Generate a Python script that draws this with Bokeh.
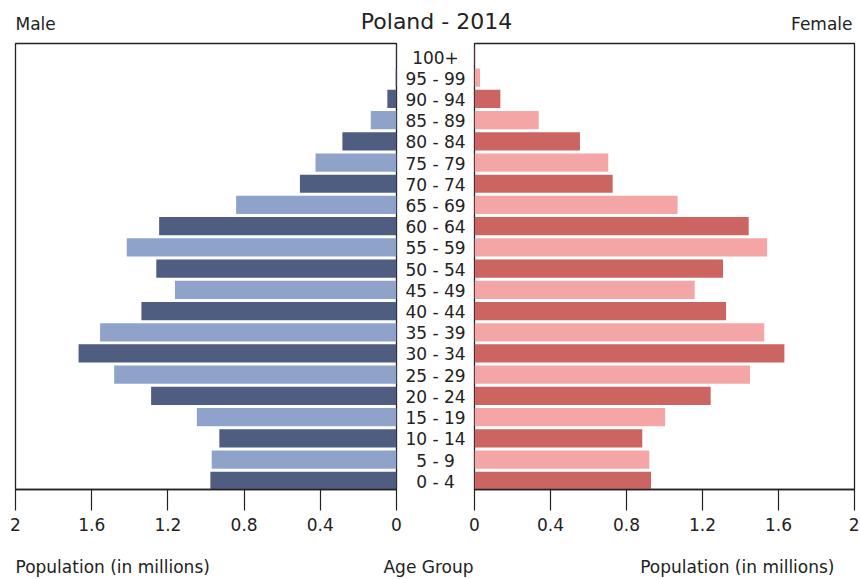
from bokeh.plotting import figure
from bokeh.models import Range1d, FixedTicker, Label
from bokeh.layouts import row, column
from bokeh.core.properties import value
from bokeh.embed import file_html
from bokeh.resources import INLINE

# ---- data (millions) ----
ages = ["0 - 4", "5 - 9", "10 - 14", "15 - 19", "20 - 24", "25 - 29", "30 - 34",
        "35 - 39", "40 - 44", "45 - 49", "50 - 54", "55 - 59", "60 - 64", "65 - 69",
        "70 - 74", "75 - 79", "80 - 84", "85 - 89", "90 - 94", "95 - 99", "100+"]
male = [0.977, 0.970, 0.930, 1.048, 1.288, 1.482, 1.669, 1.556, 1.339, 1.163, 1.261,
        1.416, 1.246, 0.842, 0.507, 0.425, 0.284, 0.135, 0.048, 0.006, 0.003]
female = [0.929, 0.920, 0.883, 1.003, 1.243, 1.450, 1.631, 1.525, 1.324, 1.159, 1.308,
          1.540, 1.443, 1.069, 0.727, 0.704, 0.555, 0.338, 0.136, 0.029, 0.003]
tick_vals = [0, 0.4, 0.8, 1.2, 1.6, 2]
tick_labels = ["0", "0.4", "0.8", "1.2", "1.6", "2"]

title_text = "Poland - 2014"
male_label = "Male"
female_label = "Female"
x_label = "Population (in millions)"
mid_label = "Age Group"

MALE_COLORS = ["#4f5d80", "#8fa3ca"]
FEMALE_COLORS = ["#cc6461", "#f4a6a6"]
INK = "#222222"
FONT = "DejaVu Sans"

idx = list(range(len(ages)))
male_col = [MALE_COLORS[i % 2] for i in idx]
female_col = [FEMALE_COLORS[i % 2] for i in idx]

y_range = Range1d(-0.41, len(ages) - 0.39)

ROW_H = 505
TOP_B = 7
BOT_B = 52


def side_fig(width, x_range, left_b, right_b):
    p = figure(width=width, height=ROW_H, x_range=x_range, y_range=y_range,
               output_backend="svg", toolbar_location=None, y_axis_type=None,
               title=None, min_border_left=left_b, min_border_right=right_b,
               min_border_top=TOP_B, min_border_bottom=BOT_B)
    p.grid.visible = False
    p.outline_line_color = INK
    p.outline_line_width = 1.3
    ax = p.xaxis[0]
    ax.ticker = FixedTicker(ticks=tick_vals)
    ax.major_label_overrides = {v: l for v, l in zip(tick_vals, tick_labels)}
    ax.major_tick_out = 21
    ax.major_tick_in = 0
    ax.minor_tick_line_color = None
    ax.major_tick_line_color = INK
    ax.major_tick_line_width = 1.2
    ax.axis_line_color = INK
    ax.axis_line_width = 1.3
    ax.major_label_text_font = FONT
    ax.major_label_text_font_size = "17px"
    ax.major_label_text_color = INK
    ax.major_label_standoff = 7
    return p


left = side_fig(402, Range1d(2, 0), 15, 6)
left.hbar(y=idx, left=0, right=male, height=0.86, fill_color=male_col, line_color=None)

right = side_fig(391, Range1d(0, 2), 6, 5)
right.hbar(y=idx, left=0, right=female, height=0.86, fill_color=female_col, line_color=None)

mid = figure(width=66, height=ROW_H, x_range=Range1d(-1, 1), y_range=y_range,
             output_backend="svg", toolbar_location=None, x_axis_type=None,
             y_axis_type=None, title=None, min_border_left=0, min_border_right=0,
             min_border_top=TOP_B, min_border_bottom=BOT_B)
mid.grid.visible = False
mid.outline_line_color = None
mid.text(x=[0] * len(ages), y=idx, text=ages, text_align="center",
         text_baseline="middle", text_font=value(FONT), text_font_size="17px",
         text_color=INK, y_offset=1)


def strip_fig(height):
    p = figure(width=859, height=height, x_range=Range1d(0, 859), y_range=Range1d(0, height),
               output_backend="svg", toolbar_location=None, x_axis_type=None,
               y_axis_type=None, title=None, min_border=0)
    p.min_border_left = p.min_border_right = p.min_border_top = p.min_border_bottom = 0
    p.grid.visible = False
    p.outline_line_color = None
    return p


top = strip_fig(36)
top.add_layout(Label(x=15, y=13, x_units="screen", y_units="screen", text=male_label,
                     text_align="left", text_baseline="middle", text_font=FONT,
                     text_font_size="17px", text_color=INK))
top.add_layout(Label(x=436, y=15, x_units="screen", y_units="screen", text=title_text,
                     text_align="center", text_baseline="middle", text_font=FONT,
                     text_font_size="22px", text_color=INK))
top.add_layout(Label(x=852, y=13, x_units="screen", y_units="screen", text=female_label,
                     text_align="right", text_baseline="middle", text_font=FONT,
                     text_font_size="17px", text_color=INK))

bottom = strip_fig(37)
bottom.add_layout(Label(x=15, y=12, x_units="screen", y_units="screen", text=x_label,
                        text_align="left", text_baseline="middle", text_font=FONT,
                        text_font_size="17px", text_color=INK))
bottom.add_layout(Label(x=428, y=12, x_units="screen", y_units="screen", text=mid_label,
                        text_align="center", text_baseline="middle", text_font=FONT,
                        text_font_size="17px", text_color=INK))
bottom.add_layout(Label(x=834, y=12, x_units="screen", y_units="screen", text=x_label,
                        text_align="right", text_baseline="middle", text_font=FONT,
                        text_font_size="17px", text_color=INK))

layout = column(top, row(left, mid, right), bottom)

open("out.html", "w").write(file_html(layout, INLINE))
